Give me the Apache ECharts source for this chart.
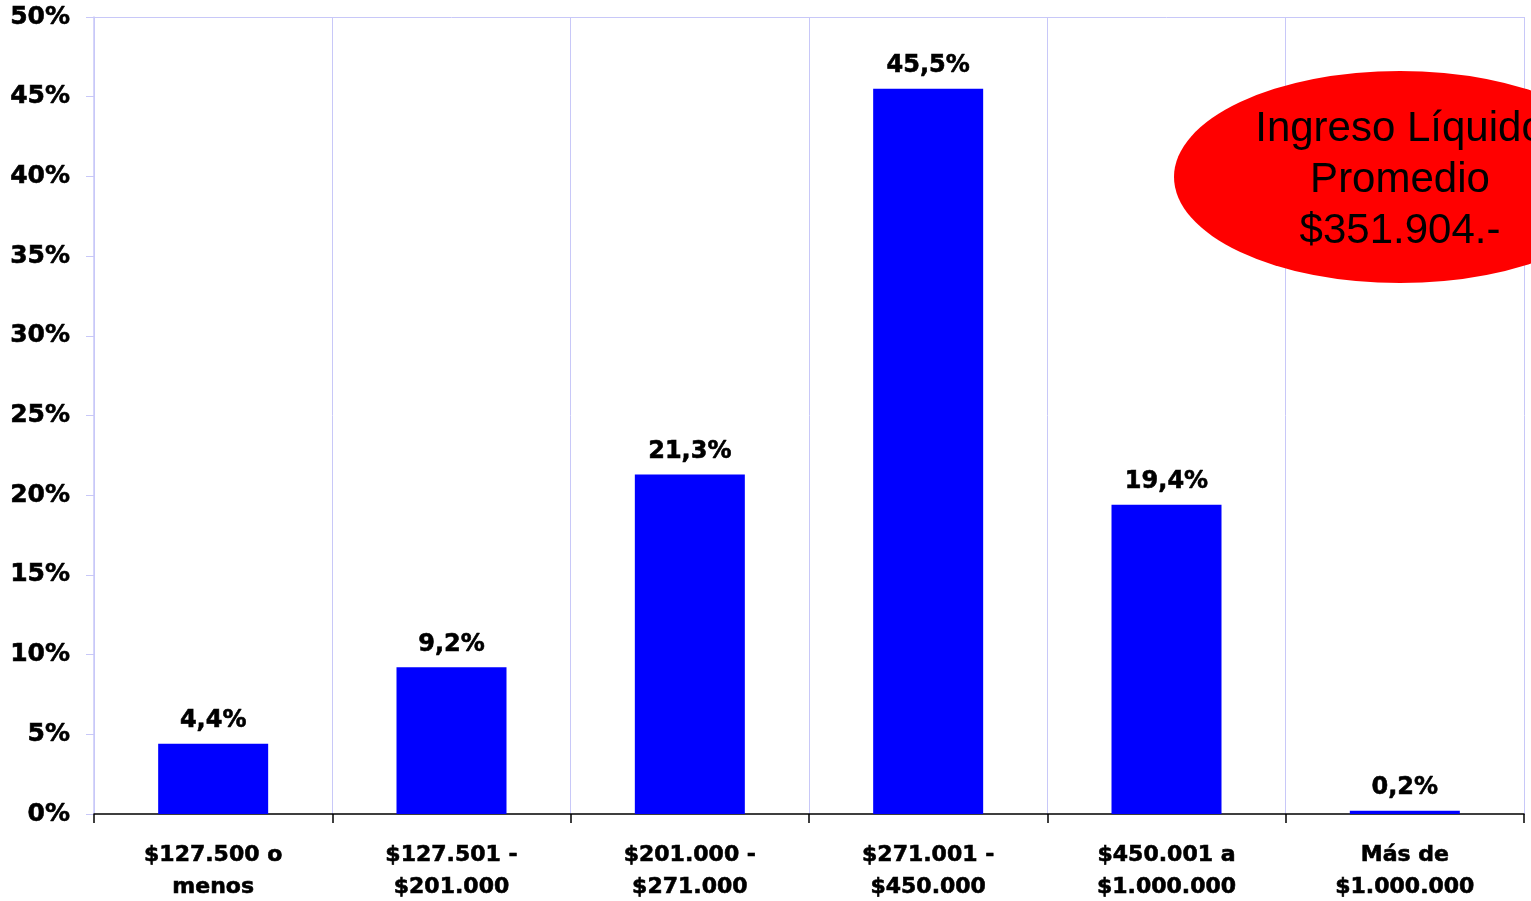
<!DOCTYPE html>
<html>
<head>
<meta charset="utf-8">
<script src="https://cdn.jsdelivr.net/npm/echarts@6/dist/echarts.min.js"></script>
<style>
  html, body { margin: 0; padding: 0; background: #fff; }
  #chart { width: 1531px; height: 901px; }
</style>
</head>
<body>
<div id="chart"></div>
<script>
// income brackets and share of respondents (%)
var categories = [
  "$127.500 o\nmenos",
  "$127.501 -\n$201.000",
  "$201.000 -\n$271.000",
  "$271.001 -\n$450.000",
  "$450.001 a\n$1.000.000",
  "Más de\n$1.000.000"
];
var shares = [4.4, 9.2, 21.3, 45.5, 19.4, 0.2];
var yMin = 0;
var yMax = 50;
var yStep = 5;
var calloutLines = ["Ingreso Líquido", "Promedio", "$351.904.-"];

var gridColor = "#c8c8f8";
var labelFont = "DejaVu Sans";

// only the top split line is visible (plot frame)
var splitColors = [];
for (var v = yMin; v <= yMax; v += yStep) {
  splitColors.push(v === yMax ? gridColor : "rgba(0,0,0,0)");
}

var chart = echarts.init(document.getElementById("chart"));
var options = {
  animation: false,
  grid: { left: 94, right: 7, top: 17, bottom: 87, outerBoundsMode: "none" },
  xAxis: {
    type: "category",
    data: categories,
    axisLine: { lineStyle: { color: "#000", width: 1.5 } },
    axisTick: { show: true, length: 9, lineStyle: { color: "#000", width: 1.5 } },
    axisLabel: {
      interval: 0,
      margin: 25,
      color: "#000",
      fontFamily: labelFont,
      fontWeight: "bold",
      fontSize: 22,
      lineHeight: 32,
      textBorderColor: "#000",
      textBorderWidth: 0.6
    },
    splitLine: { show: true, lineStyle: { color: gridColor, width: 1 } }
  },
  yAxis: {
    type: "value",
    min: yMin,
    max: yMax,
    interval: yStep,
    axisLine: { show: true, lineStyle: { color: gridColor, width: 1.5 } },
    axisTick: { show: true, length: 8, lineStyle: { color: gridColor } },
    axisLabel: {
      margin: 24,
      padding: [5, 0, 0, 0],
      color: "#000",
      fontFamily: labelFont,
      fontWeight: "bold",
      fontSize: 25,
      textBorderColor: "#000",
      textBorderWidth: 0.6,
      formatter: "{value}%"
    },
    splitLine: { show: true, lineStyle: { color: splitColors, width: 1 } }
  },
  series: [
    {
      type: "bar",
      data: shares,
      barWidth: 110,
      itemStyle: { color: "#0000ff" },
      label: {
        show: true,
        position: "top",
        distance: 11,
        color: "#000",
        fontFamily: labelFont,
        fontWeight: "bold",
        fontSize: 24,
        textBorderColor: "#000",
        textBorderWidth: 0.6,
        formatter: function (p) {
          return p.value.toFixed(1).replace(".", ",") + "%";
        }
      }
    }
  ],
  graphic: [
    {
      type: "circle",
      z: 100,
      x: 1400,
      y: 177,
      scaleY: 106 / 226,
      shape: { cx: 0, cy: 0, r: 226 },
      style: { fill: "#ff0000" }
    },
    {
      type: "text",
      z: 101,
      x: 1400,
      y: 180,
      style: {
        text: calloutLines.join("\n"),
        fill: "#000",
        font: "42px 'Liberation Sans'",
        lineHeight: 51,
        align: "center",
        verticalAlign: "middle"
      }
    }
  ]
};
chart.setOption(options);
</script>
</body>
</html>
